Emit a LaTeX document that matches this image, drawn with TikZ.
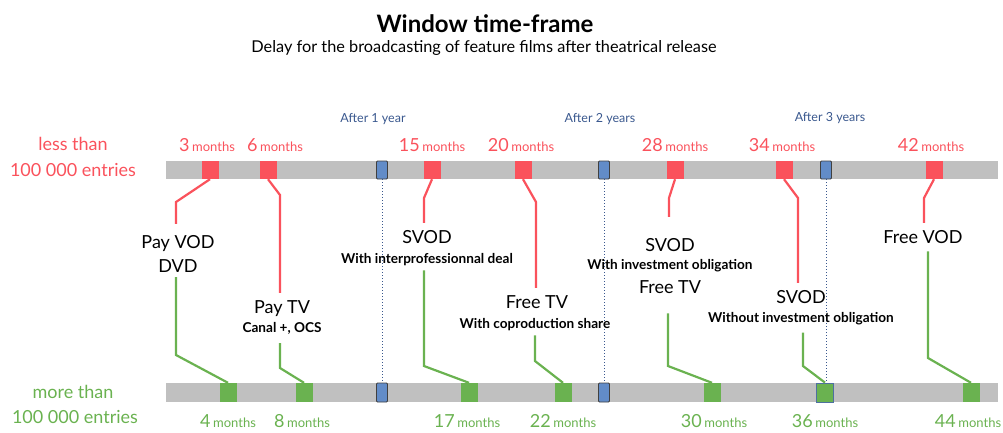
\documentclass[tikz,border=0pt]{standalone}
\usepackage{fontspec}
\setmainfont{Lato}
\usetikzlibrary{positioning}
\definecolor{lessred}{RGB}{250,82,92}
\definecolor{moregreen}{RGB}{106,178,80}
\definecolor{bargray}{RGB}{192,192,192}
\definecolor{yearblue}{RGB}{98,140,200}
\definecolor{yeartext}{RGB}{58,88,142}
\newcommand{\fsz}[1]{\fontsize{#1}{#1}\selectfont}
\newcommand{\mo}[1]{{\fsz{18}#1} {\fsz{13}months}}

\begin{document}
\begin{tikzpicture}[x=1pt, y=-1pt,
    bar/.style = {fill=bargray, minimum width=832pt, minimum height=18pt, inner sep=0pt},
    redsq/.style = {fill=lessred, minimum width=17pt, minimum height=18pt, inner sep=0pt},
    greensq/.style = {fill=moregreen, minimum width=17pt, minimum height=19pt, inner sep=0pt},
    yearsq/.style = {draw=black!75, fill=yearblue, line width=0.8pt, rounded corners=1pt, minimum width=11pt, minimum height=18pt, inner sep=0pt},
    lab/.style = {anchor=base, inner sep=0pt, font=\fsz{18}},
    sublab/.style = {anchor=base, inner sep=0pt, font=\bfseries\fsz{13.6}},
    redtxt/.style = {text=lessred, inner sep=0pt},
    greentxt/.style = {text=moregreen, inner sep=0pt},
    yeartxt/.style = {text=yeartext, anchor=base, inner sep=0pt, font=\fsz{12.5}},
    redln/.style = {draw=lessred, line width=2.2pt, shorten >=7pt},
    greenln/.style = {draw=moregreen, line width=2.2pt, shorten <=5pt},
    yearln/.style = {draw=yeartext, dotted, line width=1pt}]
    \useasboundingbox (0,0) rectangle (1003,432);
    \node[font=\bfseries\fsz{24}, anchor=base, inner sep=0pt] (title) at (485,32) {Window time-frame};
    \node[font=\fsz{16.3}, anchor=base, inner sep=0pt] (subtitle) at (484,52) {Delay for the broadcasting of feature films after theatrical release};
    \node[bar] (topbar) at (582,170) {};
    \node[bar, minimum height=19pt] (botbar) at (582,392.5) {};
    \node[redtxt, anchor=base, font=\fsz{18}] (less) at (73,150) {less than};
    \node[redtxt, anchor=base, font=\fsz{18}] (lessn) at (73,176) {100 000 entries};
    \node[greentxt, anchor=base, font=\fsz{18}] (more) at (73,398) {more than};
    \node[greentxt, anchor=base, font=\fsz{18}] (moren) at (75,423) {100 000 entries};
    \node[yearsq] (y1) at (382,170) {};
    \node[yearsq] (y2) at (604,170) {};
    \node[yearsq] (y3) at (826,170) {};
    \node[yearsq, minimum height=19pt] (y1b) at (382,392.5) {};
    \node[yearsq, minimum height=19pt] (y2b) at (604,392.5) {};
    \node[yeartxt] (a1) at (373,122) {After 1 year};
    \node[yeartxt] (a2) at (600,122) {After 2 years};
    \node[yeartxt] (a3) at (830,121) {After 3 years};
    \draw[yearln] (y1.south) -- (y1b.north);
    \draw[yearln] (y2.south) -- (y2b.north);
    \node[redsq] (r3) at (210,170) {};
    \node[redsq] (r6) at (268,170) {};
    \node[redsq] (r15) at (432,170) {};
    \node[redsq] (r20) at (523,170) {};
    \node[redsq] (r28) at (675,170) {};
    \node[redsq] (r34) at (784,170) {};
    \node[redsq] (r42) at (934,170) {};
    \node[greensq] (g4) at (228,392.5) {};
    \node[greensq] (g8) at (304,392.5) {};
    \node[greensq] (g17) at (469,392.5) {};
    \node[greensq] (g22) at (563,392.5) {};
    \node[greensq] (g30) at (712,392.5) {};
    \node[greensq, draw=yearblue!80!black, line width=0.8pt] (g36) at (825,392.5) {};
    \node[greensq] (g44) at (971,392.5) {};
    \draw[yearln] (y3.south) -- (y3.south |- g36.north);
    \node[redtxt, above=9pt of r3, xshift=-3pt] (t3) {\mo{3}};
    \node[redtxt, above=9pt of r6, xshift=7pt] (t6) {\mo{6}};
    \node[redtxt, above=9pt of r15] (t15) {\mo{15}};
    \node[redtxt, above=9pt of r20, xshift=-2pt] (t20) {\mo{20}};
    \node[redtxt, above=9pt of r28] (t28) {\mo{28}};
    \node[redtxt, above=9pt of r34, xshift=-2pt] (t34) {\mo{34}};
    \node[redtxt, above=9pt of r42, xshift=-3pt] (t42) {\mo{42}};
    \node[greentxt, below=12pt of g4] (b4) {\mo{4}};
    \node[greentxt, below=12pt of g8, xshift=-2pt] (b8) {\mo{8}};
    \node[greentxt, below=12pt of g17, xshift=-2pt] (b17) {\mo{17}};
    \node[greentxt, below=12pt of g22] (b22) {\mo{22}};
    \node[greentxt, below=12pt of g30, xshift=2pt] (b30) {\mo{30}};
    \node[greentxt, below=12pt of g36] (b36) {\mo{36}};
    \node[greentxt, below=12pt of g44, xshift=-3pt] (b44) {\mo{44}};
    \node[lab] (pvod) at (178,248) {Pay VOD};
    \node[lab] (dvd) at (178,272) {DVD};
    \node[lab] (paytv) at (282,313) {Pay TV};
    \node[sublab] (ptvsub) at (282,332) {Canal +, OCS};
    \node[lab] (svoda) at (427,243) {SVOD};
    \node[sublab] (svodasub) at (427,263) {With interprofessionnal deal};
    \node[lab] (freetva) at (537,308) {Free TV};
    \node[sublab] (freetvasub) at (535,328) {With coproduction share};
    \node[lab] (svodb) at (670,251) {SVOD};
    \node[sublab] (svodbsub) at (670,269) {With investment obligation};
    \node[lab] (freetvb) at (670,293) {Free TV};
    \node[lab] (svodc) at (801,303) {SVOD};
    \node[sublab] (svodcsub) at (801,322) {Without investment obligation};
    \node[lab] (fvod) at (923,243) {Free VOD};
    \draw[redln, shorten >=11pt] (r3.south) -- (176,202) -- (176,0 |- pvod.north);
    \draw[redln] (r6.south) -- (280,195) -- (280,0 |- paytv.north);
    \draw[redln] (r15.south) -- (424,198) -- (424,0 |- svoda.north);
    \draw[redln] (r20.south) -- (536,202) -- (536,0 |- freetva.north);
    \draw[redln, shorten >=21pt] (r28.south) -- (669,198) -- (669,0 |- svodb.north);
    \draw[redln] (r34.south) -- (798,198) -- (798,0 |- svodc.north);
    \draw[redln] (r42.south) -- (924,198) -- (924,0 |- fvod.north);
    \draw[greenln] (176,0 |- dvd.south) -- (176,355) -- (g4.north);
    \draw[greenln, shorten <=9pt] (280,0 |- ptvsub.south) -- (280,368) -- (g8.north);
    \draw[greenln] (424,0 |- svodasub.south) -- (424,366) -- (g17.north);
    \draw[greenln] (535,0 |- freetvasub.south) -- (535,361) -- (g22.north);
    \draw[greenln, shorten <=20pt] (668,0 |- freetvb.south) -- (668,366) -- (g30.north);
    \draw[greenln, shorten <=8pt] (803,0 |- svodcsub.south) -- (803,366) -- (g36.north);
    \draw[greenln, shorten <=8pt] (928,0 |- fvod.south) -- (928,358) -- (g44.north);
\end{tikzpicture}
\end{document}
